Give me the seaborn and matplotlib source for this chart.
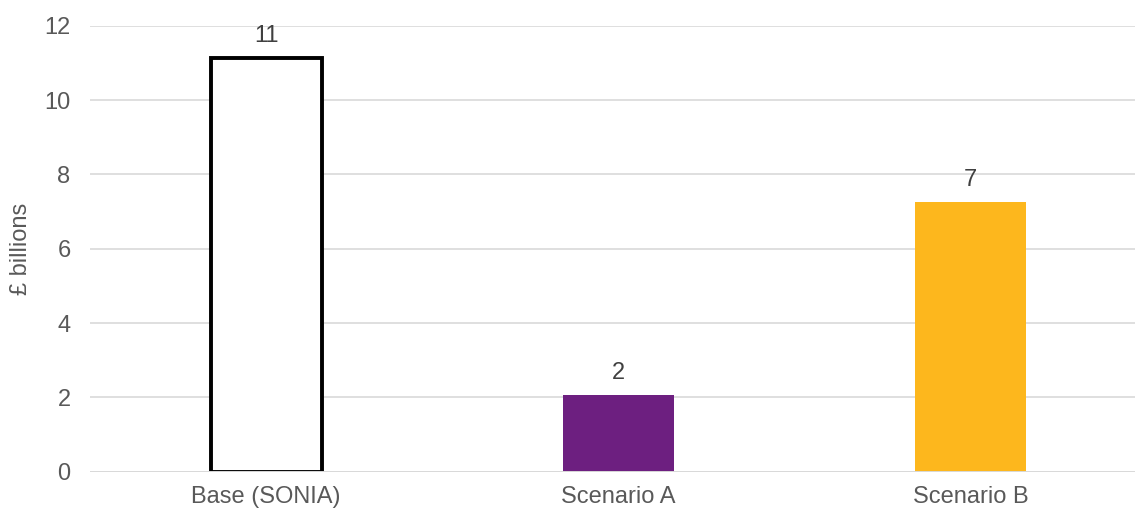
import matplotlib
matplotlib.use("Agg")
import matplotlib.pyplot as plt
import seaborn as sns
import pandas as pd

categories = ["Base (SONIA)", "Scenario A", "Scenario B"]
values = [11.12, 2.06, 7.26]
labels = ["11", "2", "7"]
fills = ["#FFFFFF", "#6D1F80", "#FDB71D"]
edges = ["#000000", "#6D1F80", "#FDB71D"]
yticks = [0, 2, 4, 6, 8, 10, 12]

sns.set_theme(style="white")
plt.rcParams["font.family"] = ["Liberation Sans", "DejaVu Sans"]

df = pd.DataFrame({"cat": categories, "val": values})

W, H = 1135, 512
fig = plt.figure(figsize=(W / 100, H / 100), dpi=100)
ax = fig.add_axes([90 / W, 40.3 / H, (1135 - 90) / W, (471.7 - 25.7) / H])

sns.barplot(data=df, x="cat", y="val", hue="cat", palette=fills,
            width=0.315, ax=ax, legend=False, zorder=3, saturation=1)

for patch, ec in zip(ax.patches, edges):
    if ec == "#000000":
        patch.set_edgecolor(ec)
        patch.set_linewidth(2.8)
    else:
        patch.set_linewidth(0)

ax.set_ylim(0, 12)
ax.set_xlim(-0.5, 2.467)
ax.set_yticks(yticks)
ax.yaxis.grid(True, color="#D9D9D9", linewidth=1.2, zorder=0)
ax.xaxis.grid(False)
for s in ax.spines.values():
    s.set_visible(False)
ax.axhline(0, color="#D9D9D9", linewidth=1.4, zorder=4)

fs = 17
ax.tick_params(axis="both", length=0, labelsize=fs, colors="#595959")
ax.tick_params(axis="y", pad=14)
ax.tick_params(axis="x", pad=10)
ax.set_xlabel("")
ax.set_ylabel("£ billions", fontsize=fs, color="#595959", labelpad=9)

for i, (v, lab) in enumerate(zip(values, labels)):
    ax.annotate(lab, (i, v), xytext=(0, 8), textcoords="offset points",
                ha="center", va="bottom", fontsize=fs, color="#404040")

fig.savefig("out.png", dpi=100)
